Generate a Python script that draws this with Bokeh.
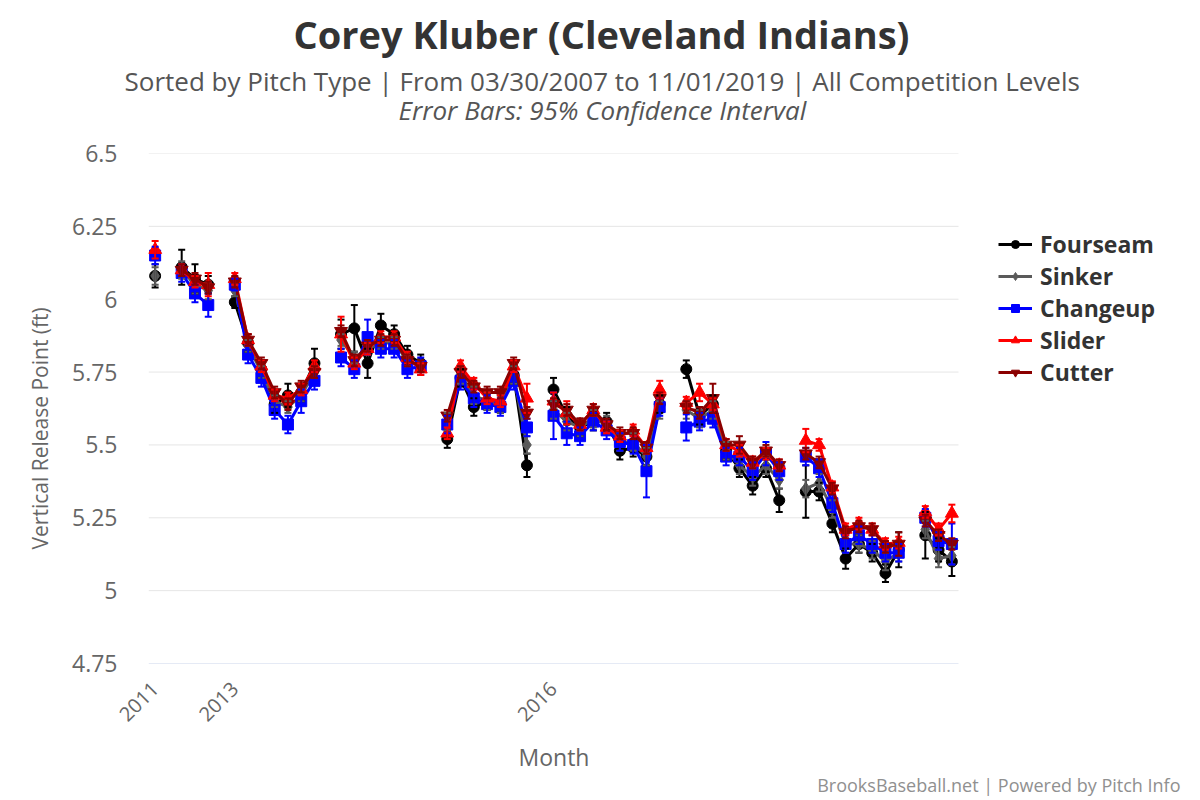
import math
from bokeh.plotting import figure
from bokeh.models import (Legend, LegendItem, Whisker, TeeHead, ColumnDataSource,
                          FixedTicker, Range1d, Title)
from bokeh.embed import file_html
from bokeh.resources import INLINE

N = None
# 61 month categories (null = break between seasons)
tick_idx = [0, 6, 30]
tick_lbl = ["2011", "2013", "2016"]
y_ticks = [4.75, 5, 5.25, 5.5, 5.75, 6, 6.25, 6.5]
y_tick_lbl = ["4.75", "5", "5.25", "5.5", "5.75", "6", "6.25", "6.5"]

fourseam = [6.08, N, 6.11, 6.07, 6.05, N,
            5.99, 5.85, 5.76, 5.64, 5.67, 5.68, 5.78, N,
            5.88, 5.90, 5.78, 5.91, 5.88, 5.81, 5.78, N,
            5.52, 5.73, 5.63, 5.65, 5.64, 5.74, 5.43, N,
            5.69, 5.60, 5.56, 5.58, 5.58, 5.48, 5.49, 5.46, 5.64, N,
            5.76, 5.60, 5.64, 5.48, 5.42, 5.36, 5.42, 5.31, N,
            5.34, 5.34, 5.23, 5.11, 5.16, 5.13, 5.06, 5.14, N,
            5.19, 5.14, 5.10]
fourseam_err = [0.04, N, 0.06, 0.05, 0.03, N,
                0.02, 0.03, 0.03, 0.03, 0.04, 0.03, 0.05, N,
                0.05, 0.08, 0.05, 0.04, 0.03, 0.03, 0.03, N,
                0.03, 0.03, 0.03, 0.03, 0.03, 0.03, 0.04, N,
                0.04, 0.03, 0.03, 0.03, 0.03, 0.03, 0.03, 0.03, 0.03, N,
                0.03, 0.03, 0.03, 0.03, 0.03, 0.03, 0.03, 0.04, N,
                0.09, 0.03, 0.03, 0.035, 0.03, 0.03, 0.03, 0.06, N,
                0.08, 0.04, 0.05]

sinker = [6.08, N, 6.10, 6.05, 6.03, N,
          6.03, 5.84, 5.75, 5.65, 5.63, 5.67, 5.75, N,
          5.86, 5.80, 5.83, 5.85, 5.85, 5.79, 5.77, N,
          5.58, 5.74, 5.67, 5.65, 5.64, 5.74, 5.50, N,
          5.62, 5.58, 5.56, 5.59, 5.57, 5.51, 5.51, 5.46, 5.62, N,
          5.62, 5.59, 5.62, 5.48, 5.43, 5.39, 5.43, 5.38, N,
          5.35, 5.37, 5.28, 5.16, 5.16, 5.14, 5.10, 5.13, N,
          5.21, 5.11, 5.12]
sinker_err = [0.03, N, 0.03, 0.03, 0.03, N,
              0.02, 0.02, 0.02, 0.02, 0.02, 0.02, 0.02, N,
              0.02, 0.02, 0.02, 0.02, 0.02, 0.02, 0.02, N,
              0.03, 0.03, 0.03, 0.03, 0.03, 0.03, 0.03, N,
              0.03, 0.03, 0.03, 0.03, 0.03, 0.03, 0.03, 0.03, 0.03, N,
              0.03, 0.03, 0.03, 0.03, 0.03, 0.03, 0.03, 0.03, N,
              0.03, 0.03, 0.03, 0.03, 0.03, 0.03, 0.03, 0.03, N,
              0.03, 0.03, 0.03]

changeup = [6.15, N, 6.09, 6.02, 5.98, N,
            6.05, 5.81, 5.73, 5.62, 5.57, 5.65, 5.72, N,
            5.80, 5.76, 5.87, 5.83, 5.83, 5.76, 5.77, N,
            5.57, 5.72, 5.66, 5.64, 5.63, 5.72, 5.56, N,
            5.60, 5.54, 5.53, 5.58, 5.55, 5.51, 5.50, 5.41, 5.63, N,
            5.56, 5.58, 5.59, 5.46, 5.46, 5.41, 5.47, 5.41, N,
            5.46, 5.42, 5.30, 5.16, 5.19, 5.16, 5.13, 5.13, N,
            5.25, 5.17, 5.16]
changeup_err = [0.03, N, 0.03, 0.03, 0.04, N,
                0.02, 0.03, 0.03, 0.03, 0.03, 0.04, 0.03, N,
                0.03, 0.03, 0.06, 0.03, 0.03, 0.03, 0.03, N,
                0.03, 0.03, 0.03, 0.03, 0.03, 0.03, 0.03, N,
                0.08, 0.04, 0.03, 0.03, 0.03, 0.03, 0.03, 0.09, 0.03, N,
                0.045, 0.03, 0.03, 0.03, 0.03, 0.03, 0.04, 0.03, N,
                0.03, 0.03, 0.03, 0.03, 0.03, 0.03, 0.03, 0.03, N,
                0.03, 0.03, 0.07]

slider = [6.17, N, 6.10, 6.06, 6.05, N,
          6.07, 5.86, 5.77, 5.67, 5.66, 5.69, 5.77, N,
          5.88, 5.78, 5.83, 5.87, 5.87, 5.80, 5.76, N,
          5.54, 5.77, 5.71, 5.66, 5.65, 5.77, 5.66, N,
          5.65, 5.61, 5.57, 5.62, 5.56, 5.53, 5.55, 5.49, 5.69, N,
          5.645, 5.68, 5.64, 5.50, 5.48, 5.44, 5.47, 5.43, N,
          5.515, 5.50, 5.355, 5.21, 5.23, 5.21, 5.16, 5.165, N,
          5.27, 5.21, 5.265]
slider_err = [0.03, N, 0.02, 0.02, 0.04, N,
              0.02, 0.02, 0.02, 0.02, 0.02, 0.02, 0.02, N,
              0.06, 0.02, 0.02, 0.02, 0.02, 0.02, 0.02, N,
              0.02, 0.02, 0.02, 0.02, 0.02, 0.02, 0.05, N,
              0.03, 0.04, 0.02, 0.02, 0.02, 0.02, 0.02, 0.02, 0.03, N,
              0.02, 0.03, 0.02, 0.02, 0.02, 0.02, 0.02, 0.02, N,
              0.04, 0.02, 0.02, 0.02, 0.02, 0.02, 0.02, 0.02, N,
              0.02, 0.02, 0.03]

cutter = [N, N, 6.10, 6.07, 6.04, N,
          6.06, 5.86, 5.78, 5.68, 5.64, 5.70, 5.75, N,
          5.89, 5.79, 5.84, 5.86, 5.86, 5.79, 5.77, N,
          5.60, 5.75, 5.70, 5.68, 5.68, 5.78, 5.61, N,
          5.64, 5.62, 5.57, 5.62, 5.57, 5.54, 5.54, 5.49, 5.66, N,
          5.63, 5.61, 5.66, 5.50, 5.50, 5.44, 5.48, 5.43, N,
          5.47, 5.44, 5.35, 5.20, 5.22, 5.21, 5.15, 5.16, N,
          5.24, 5.19, 5.16]
cutter_err = [N, N, 0.02, 0.02, 0.02, N,
              0.02, 0.02, 0.02, 0.02, 0.02, 0.02, 0.02, N,
              0.02, 0.02, 0.02, 0.02, 0.02, 0.02, 0.02, N,
              0.02, 0.02, 0.02, 0.02, 0.02, 0.02, 0.02, N,
              0.02, 0.02, 0.02, 0.02, 0.02, 0.02, 0.02, 0.02, 0.02, N,
              0.02, 0.02, 0.05, 0.02, 0.03, 0.02, 0.02, 0.02, N,
              0.02, 0.02, 0.02, 0.02, 0.02, 0.02, 0.02, 0.04, N,
              0.02, 0.02, 0.02]

series = [
    ("Fourseam", fourseam, fourseam_err, "#000000", "circle", 11),
    ("Sinker", sinker, sinker_err, "#5a5a5a", "diamond", 13),
    ("Changeup", changeup, changeup_err, "#0000ff", "square", 11),
    ("Slider", slider, slider_err, "#ff0000", "triangle", 13),
    ("Cutter", cutter, cutter_err, "#8b0000", "inverted_triangle", 13),
]

FONT = "Open Sans"
# canvas pixels: plotting area 148..958 x 153..663; frame extended right to hold the legend
FL, PR, FT, FB, FR = 148, 958, 153, 663, 1180
n_cat = len(fourseam)
px_per_cat = (PR - FL) / n_cat
x_end = -0.5 + (FR - FL) / px_per_cat

p = figure(width=1200, height=800, x_range=Range1d(-0.5, x_end), y_range=Range1d(4.75, 6.5),
           output_backend="svg", toolbar_location=None,
           min_border_left=FL, min_border_right=1200 - FR, min_border_top=FT,
           min_border_bottom=800 - FB)
p.outline_line_color = None
p.background_fill_color = "white"
p.border_fill_color = "white"
p.xgrid.visible = False
p.ygrid.visible = False

# horizontal grid lines only across the category span
grid_src = ColumnDataSource(dict(x0=[-0.5] * (len(y_ticks) - 1), x1=[n_cat - 0.5] * (len(y_ticks) - 1),
                                 y=y_ticks[1:]))
p.segment(x0="x0", x1="x1", y0="y", y1="y", source=grid_src, line_color="#e6e6e6", line_width=1)
p.segment(x0=[-0.5], x1=[n_cat - 0.5], y0=[y_ticks[0]], y1=[y_ticks[0]], line_color="#ccd6eb",
          line_width=1)

p.yaxis.ticker = FixedTicker(ticks=y_ticks)
p.yaxis.major_label_overrides = {t: l for t, l in zip(y_ticks, y_tick_lbl)}
p.yaxis.axis_line_color = None
p.yaxis.major_tick_line_color = None
p.yaxis.minor_tick_line_color = None
p.yaxis.major_tick_out = 0
p.yaxis.major_tick_in = 0
p.yaxis.minor_tick_out = 0
p.yaxis.major_label_standoff = 31
p.yaxis.major_label_text_font = FONT
p.yaxis.major_label_text_font_size = "23px"
p.yaxis.major_label_text_color = "#666666"

p.xaxis.ticker = FixedTicker(ticks=tick_idx)
p.xaxis.major_label_overrides = {t: l for t, l in zip(tick_idx, tick_lbl)}
p.xaxis.axis_line_color = None
p.xaxis.major_tick_line_color = None
p.xaxis.minor_tick_line_color = None
p.xaxis.major_tick_out = 0
p.xaxis.major_tick_in = 0
p.xaxis.minor_tick_out = 0
p.xaxis.major_label_orientation = math.pi / 4
p.xaxis.major_label_standoff = 22
p.xaxis.major_label_text_font = FONT
p.xaxis.major_label_text_font_size = "20px"
p.xaxis.major_label_text_color = "#666666"

nan = float("nan")
items = []
for name, vals, errs, color, marker, size in series:
    xs = list(range(len(vals)))
    ys = [nan if v is None else v for v in vals]
    wx, lo, hi = [], [], []
    for i, (v, e) in enumerate(zip(vals, errs)):
        if v is not None and e is not None:
            wx.append(i); lo.append(v - e); hi.append(v + e)
    wsrc = ColumnDataSource(dict(x=wx, lo=lo, hi=hi))
    w = Whisker(source=wsrc, base="x", lower="lo", upper="hi", line_color=color, line_width=2,
                upper_head=TeeHead(size=7, line_color=color, line_width=2),
                lower_head=TeeHead(size=7, line_color=color, line_width=2), level="glyph")
    p.add_layout(w)
    src = ColumnDataSource(dict(x=xs, y=ys))
    lr = p.line("x", "y", source=src, line_color=color, line_width=3)
    sr = p.scatter("x", "y", source=src, marker=marker, size=size, fill_color=color,
                   line_color=color)
    items.append(LegendItem(label=name, renderers=[lr, sr]))

# legend inside the (extended) frame, to the right of the plotting area
LEG_FS = 23
item_h = 1.362 * LEG_FS
leg_bottom = (247 - item_h / 2) + 5 * item_h
legend = Legend(items=items, location=(998 - FL, round(FB - leg_bottom)))
legend.label_text_font = FONT
legend.label_text_font_size = f"{LEG_FS}px"
legend.label_text_font_style = "bold"
legend.label_text_color = "#333333"
legend.glyph_width = 34
legend.glyph_height = 20
legend.label_height = 20
legend.spacing = 0
legend.padding = 0
legend.margin = 0
legend.label_standoff = 8
legend.border_line_color = None
legend.background_fill_alpha = 0
p.add_layout(legend)

# titles stacked above the frame (closest first)
p.add_layout(Title(text=" ", text_font_size="10px", standoff=22.7), "above")
p.add_layout(Title(text="Error Bars: 95% Confidence Interval", text_font=FONT,
                   text_font_size="26px", text_font_style="italic",
                   text_color="#555555", align="left", offset=398 - FL,
                   vertical_align="bottom", standoff=-20), "above")
p.add_layout(Title(text="Sorted by Pitch Type | From 03/30/2007 to 11/01/2019 | All Competition Levels",
                   text_font=FONT, text_font_size="26px", text_font_style="normal",
                   text_color="#555555", align="left", offset=124 - FL,
                   vertical_align="bottom", standoff=1.2), "above")
p.add_layout(Title(text="Corey Kluber (Cleveland Indians)", text_font=FONT,
                   text_font_size="38px", text_font_style="bold",
                   text_color="#333333", align="left", offset=293 - FL,
                   vertical_align="bottom", standoff=1.8), "above")

# y-axis title in the left panel (outside the tick labels)
p.add_layout(Title(text="Vertical Release Point (ft)", text_font=FONT,
                   text_font_size="21px", text_font_style="normal",
                   text_color="#666666", align="left", offset=FB - 549,
                   vertical_align="middle", standoff=30), "left")

# x-axis title and credits below the axis
p.add_layout(Title(text="Month", text_font=FONT, text_font_size="23px",
                   text_font_style="normal", text_color="#666666", align="left",
                   offset=518 - FL, vertical_align="middle", standoff=17.5), "below")
p.add_layout(Title(text="BrooksBaseball.net | Powered by Pitch Info", text_font=FONT,
                   text_font_size="18px", text_font_style="normal", text_color="#909090",
                   align="right", offset=0, vertical_align="middle",
                   standoff=-21), "below")

open("out.html", "w").write(file_html(p, INLINE))
